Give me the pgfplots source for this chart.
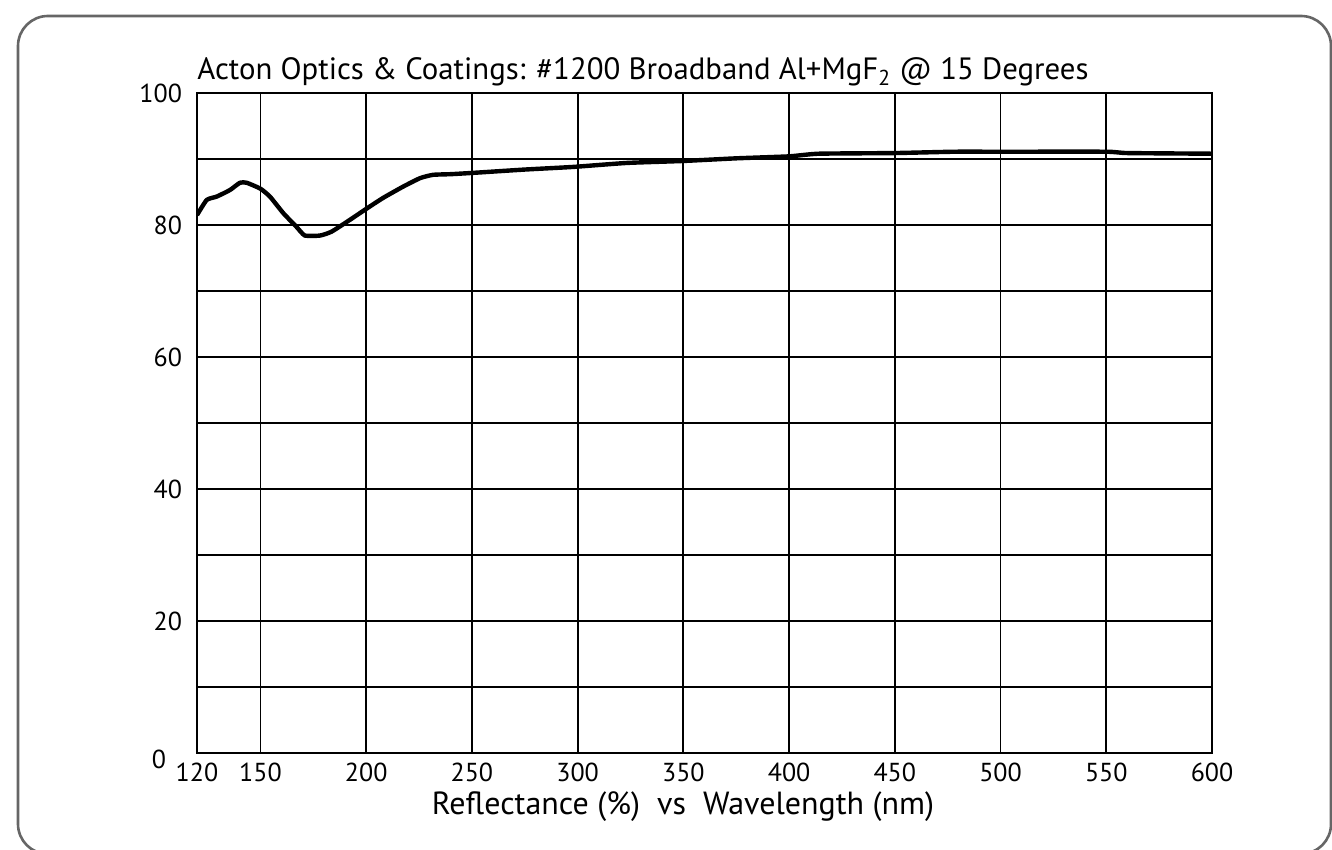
\documentclass[border=0pt]{standalone}
\usepackage{fontspec}
\setmainfont{PT Sans}
\usepackage{pgfplots}
\pgfplotsset{compat=1.18}
\begin{document}
\begin{tikzpicture}
\useasboundingbox (0pt,0pt) rectangle (666pt,425pt);
\draw[line width=1.3pt, black!60, rounded corners=15pt] (9pt,-2pt) rectangle (665.5pt,417pt);
\begin{axis}[
  at={(98.5pt,48.5pt)}, anchor=south west,
  scale only axis, width=507.5pt, height=330pt,
  xmin=120, xmax=600, ymin=0, ymax=100,
  xtick={120,150,200,250,300,350,400,450,500,550,600},
  ytick={10,20,...,100},
  yticklabels={,20,,40,,60,,80,,100},
  extra y ticks={0},
  extra y tick labels={0},
  extra y tick style={yticklabel style={xshift=-8pt, yshift=-3pt}},
  grid=major,
  grid style={black, line width=0.9pt},
  axis line style={black, line width=0.9pt},
  major tick length=0pt,
  tick style={draw=none},
  /pgf/number format/assume math mode=true,
  ticklabel style={font=\fontsize{13}{13}\selectfont},
  xticklabel style={yshift=-1.5pt},
  yticklabel style={xshift=-4pt},
]
\addplot[black, line width=2.2pt, line join=round, smooth, tension=0.3] coordinates {
(120,81.5) (124.6,83.8) (129.3,84.3) (135.6,85.3) (140.3,86.4) (143.5,86.4)
(150,85.5) (154.5,84.3) (160.8,81.8) (167.1,79.7) (171,78.4) (178.2,78.4)
(183.7,79.0) (192.4,80.8) (200.3,82.5) (208,84.1) (217.4,85.8) (225.5,87.1)
(231.6,87.6) (240,87.7) (250.7,87.9) (275,88.4) (298,88.8) (323.2,89.4)
(350,89.7) (375,90.1) (400,90.4) (414,90.8) (450,90.9) (478,91.1)
(500,91.1) (550,91.1) (560,90.9) (600,90.8)
};
\end{axis}
\node[anchor=base west, font=\fontsize{15.4}{16}\selectfont, inner sep=0pt] at (98.5pt,385pt)
  {Acton Optics \& Coatings: \#1200 Broadband Al+MgF\textsubscript{2} @ 15 Degrees};
\node[anchor=base, font=\fontsize{16}{17}\selectfont, inner sep=0pt] at (341.5pt,17.5pt)
  {Reflectance (\%)~~vs~~Wavelength (nm)};
\end{tikzpicture}
\end{document}
